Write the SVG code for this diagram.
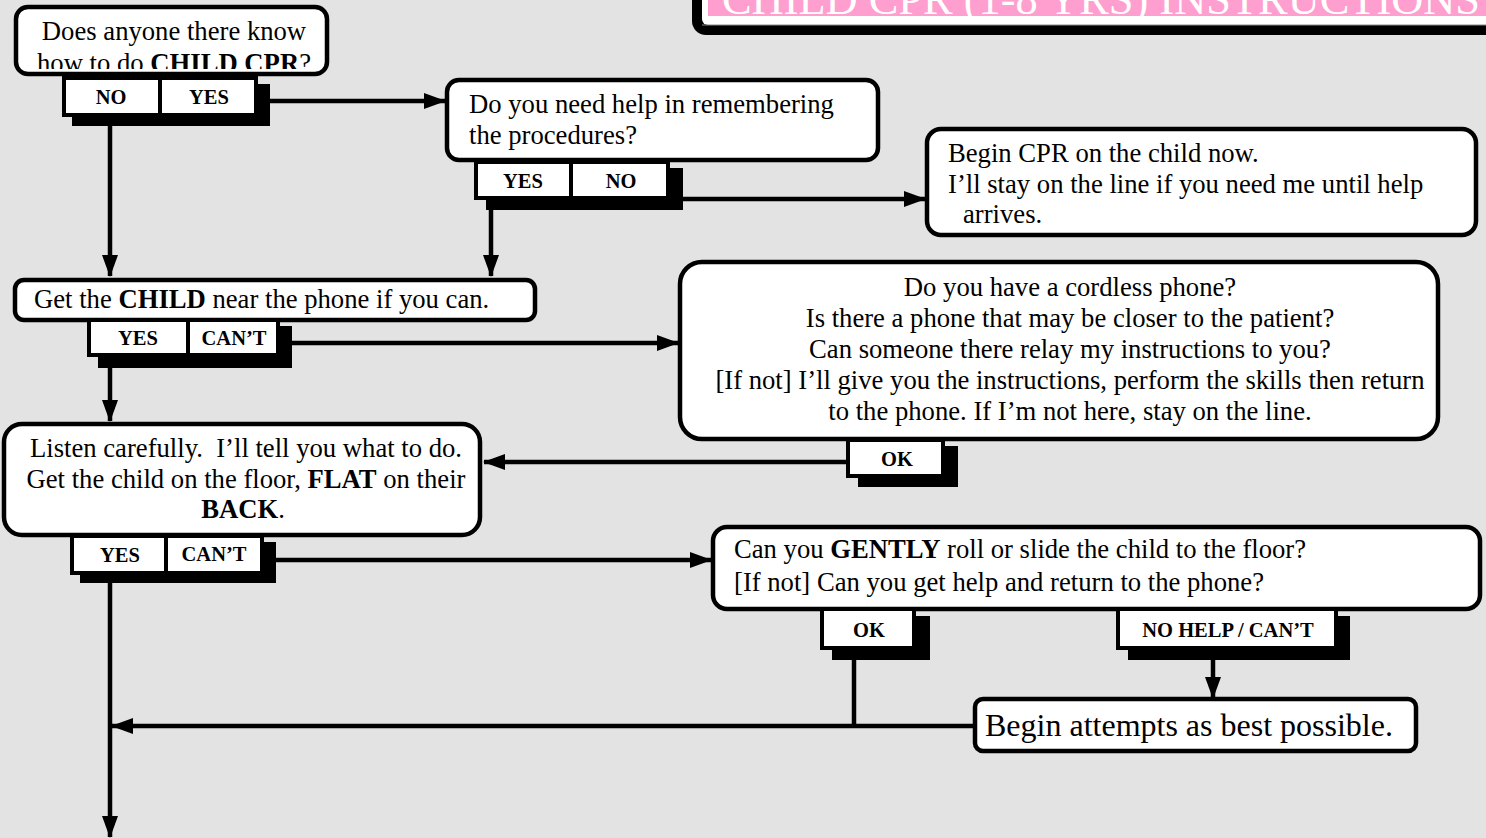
<svg xmlns="http://www.w3.org/2000/svg" width="1486" height="838" viewBox="0 0 1486 838">
<style>
.box{fill:#fff;stroke:#000;stroke-width:4.5}
.btn{fill:#fff;stroke:#000;stroke-width:4}
.sh{fill:#000}
.t{font-family:"Liberation Serif","Times New Roman",serif;font-size:26.67px;fill:#000;white-space:pre}
.c{text-anchor:middle}
.bl{font-family:"Liberation Serif","Times New Roman",serif;font-weight:bold;font-size:20.5px;text-anchor:middle;fill:#000}
.cn{fill:none;stroke:#000;stroke-width:4.5}
</style>
<defs>
<marker id="ah" markerUnits="userSpaceOnUse" markerWidth="22" markerHeight="16" refX="21" refY="8" orient="auto">
<path d="M0,0 L22,8 L0,16 z" fill="#000"/>
</marker>
<clipPath id="n1clip"><rect x="18" y="9" width="307" height="60"/></clipPath>
</defs>
<rect width="1486" height="838" fill="#e3e3e3"/>

<g id="title">
<rect x="692" y="-30" width="820" height="65" rx="14" fill="#000"/>
<rect x="702" y="-30" width="800" height="55" rx="6" fill="#fff"/>
<line x1="702" y1="25" x2="1486" y2="25" stroke="#888" stroke-width="1"/>
<rect x="708" y="-30" width="790" height="46" fill="#ff9fcf"/>
<text x="722" y="13.5" font-family="'Liberation Serif','Times New Roman',serif" font-size="44" fill="#fff" textLength="758" lengthAdjust="spacingAndGlyphs">CHILD CPR (1-8 YRS) INSTRUCTIONS</text>
</g>

<g id="connectors">
<path class="cn" d="M270,101 H445" marker-end="url(#ah)"/>
<path class="cn" d="M110,126 V276" marker-end="url(#ah)"/>
<path class="cn" d="M683,199 H925" marker-end="url(#ah)"/>
<path class="cn" d="M491,210 V276" marker-end="url(#ah)"/>
<path class="cn" d="M292,343 H678" marker-end="url(#ah)"/>
<path class="cn" d="M110,345 V421" marker-end="url(#ah)"/>
<path class="cn" d="M849,462 H484" marker-end="url(#ah)"/>
<path class="cn" d="M276,560 H711" marker-end="url(#ah)"/>
<path class="cn" d="M110,583 V837" marker-end="url(#ah)"/>
<path class="cn" d="M854,660 V726"/>
<path class="cn" d="M975,726 H112" marker-end="url(#ah)"/>
<path class="cn" d="M1213,660 V698" marker-end="url(#ah)"/>
</g>

<g id="n1">
<rect class="box" x="16" y="7" width="311" height="67" rx="12"/>
<g clip-path="url(#n1clip)">
<text class="t c" x="174" y="40">Does anyone there know</text>
<text class="t c" x="174" y="72">how to do <tspan font-weight="bold">CHILD CPR</tspan>?</text>
</g>
</g>
<g id="n1-buttons">
<rect class="sh" x="72" y="84" width="198" height="42"/>
<rect class="btn" x="64" y="78" width="96" height="37"/>
<rect class="btn" x="160" y="78" width="96" height="37"/>
<text class="bl" x="111" y="104">NO</text>
<text class="bl" x="209" y="104">YES</text>
</g>

<g id="n2">
<rect class="box" x="447" y="80" width="431" height="80" rx="12"/>
<text class="t" x="469" y="113">Do you need help in remembering</text>
<text class="t" x="469" y="144">the procedures?</text>
</g>
<g id="n2-buttons">
<rect class="sh" x="486" y="168" width="197" height="42"/>
<rect class="btn" x="476" y="162" width="95" height="36"/>
<rect class="btn" x="571" y="162" width="97" height="36"/>
<text class="bl" x="523" y="188">YES</text>
<text class="bl" x="621" y="188">NO</text>
</g>

<g id="n3">
<rect class="box" x="927" y="129" width="549" height="106" rx="14"/>
<text class="t" x="948" y="162">Begin CPR on the child now.</text>
<text class="t" x="948" y="193">I’ll stay on the line if you need me until help</text>
<text class="t" x="963" y="223">arrives.</text>
</g>

<g id="n4">
<rect class="box" x="15" y="280" width="520" height="40" rx="9"/>
<text class="t" x="34" y="308">Get the <tspan font-weight="bold">CHILD</tspan> near the phone if you can.</text>
</g>
<g id="n4-buttons">
<rect class="sh" x="98" y="326" width="194" height="42"/>
<rect class="btn" x="89" y="320" width="99" height="35"/>
<rect class="btn" x="188" y="320" width="90" height="35"/>
<text class="bl" x="138" y="345">YES</text>
<text class="bl" x="234" y="345">CAN’T</text>
</g>

<g id="n5">
<rect class="box" x="680" y="262" width="758" height="177" rx="22"/>
<text class="t c" x="1070" y="296">Do you have a cordless phone?</text>
<text class="t c" x="1070" y="327">Is there a phone that may be closer to the patient?</text>
<text class="t c" x="1070" y="358">Can someone there relay my instructions to you?</text>
<text class="t c" x="1070" y="389">[If not] I’ll give you the instructions, perform the skills then return</text>
<text class="t c" x="1070" y="420">to the phone. If I’m not here, stay on the line.</text>
</g>
<g id="n5-buttons">
<rect class="sh" x="858" y="446" width="100" height="41"/>
<rect class="btn" x="848" y="440" width="95" height="36"/>
<text class="bl" x="897" y="466">OK</text>
</g>

<g id="n6">
<rect class="box" x="4" y="424" width="476" height="111" rx="18"/>
<text class="t c" x="246" y="457">Listen carefully.  I’ll tell you what to do.</text>
<text class="t c" x="246" y="488">Get the child on the floor, <tspan font-weight="bold">FLAT</tspan> on their</text>
<text class="t c" x="243" y="518"><tspan font-weight="bold">BACK</tspan>.</text>
</g>
<g id="n6-buttons">
<rect class="sh" x="80" y="542" width="196" height="41"/>
<rect class="btn" x="72" y="536" width="94" height="37"/>
<rect class="btn" x="166" y="536" width="96" height="37"/>
<text class="bl" x="120" y="562">YES</text>
<text class="bl" x="214" y="561">CAN’T</text>
</g>

<g id="n7">
<rect class="box" x="713" y="527" width="767" height="82" rx="14"/>
<text class="t" x="734" y="558">Can you <tspan font-weight="bold">GENTLY</tspan> roll or slide the child to the floor?</text>
<text class="t" x="734" y="591">[If not] Can you get help and return to the phone?</text>
</g>
<g id="n7-buttons">
<rect class="sh" x="832" y="616" width="98" height="44"/>
<rect class="sh" x="1128" y="616" width="222" height="44"/>
<rect class="btn" x="822" y="609" width="92" height="39"/>
<rect class="btn" x="1118" y="609" width="218" height="39"/>
<text class="bl" x="869" y="637">OK</text>
<text class="bl" x="1228" y="637">NO HELP / CAN’T</text>
</g>

<g id="n8">
<rect class="box" x="975" y="699" width="441" height="52" rx="8"/>
<text x="985" y="736" font-family="'Liberation Serif','Times New Roman',serif" font-size="32" fill="#000">Begin attempts as best possible.</text>
</g>
</svg>
